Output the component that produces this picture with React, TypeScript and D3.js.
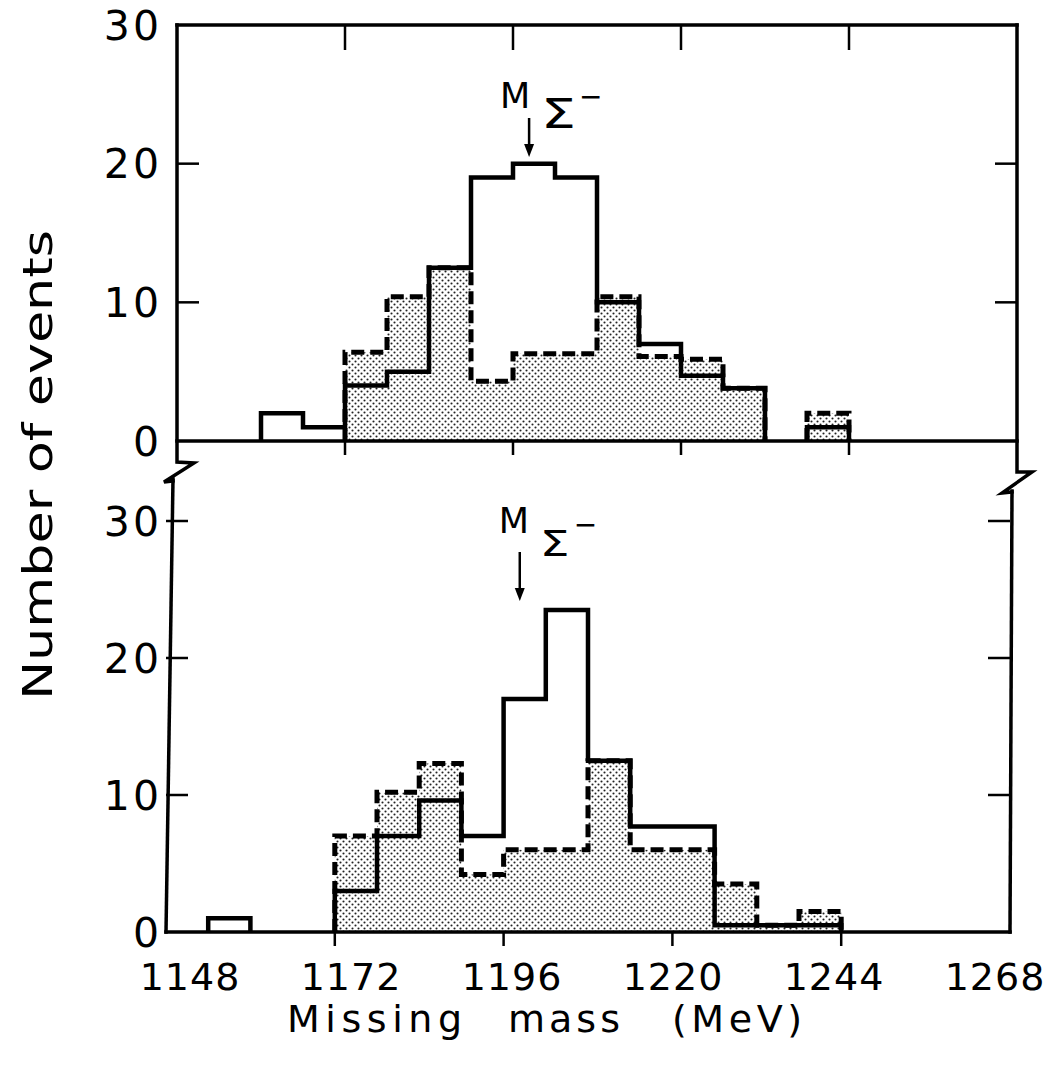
import React from 'react';
import * as d3 from 'd3';

// 6 MeV bins, left edges
const binStarts = [1154, 1160, 1166, 1172, 1178, 1184, 1190, 1196, 1202, 1208, 1214, 1220, 1226, 1232, 1238];
const binWidth = 6;

// upper panel
const topSolid = [0, 2, 1, 4, 5, 12.5, 19, 20, 19, 10, 7, 4.7, 3.8, 0, 1];
const topDashed = [0, 0, 0, 6.4, 10.4, 12.5, 4.3, 6.3, 6.3, 10.4, 6.1, 5.9, 3.8, 0, 2];

// lower panel
const bottomSolid = [1, 0, 0, 3, 7, 9.6, 7, 17, 23.5, 12.5, 7.7, 7.7, 0.5, 0.5, 0.5];
const bottomDashed = [0, 0, 0, 7, 10.2, 12.3, 4.2, 6, 6, 12.5, 6, 6, 3.5, 0.5, 1.5];

const xTicks = [1148, 1172, 1196, 1220, 1244, 1268];
const yTicks = [0, 10, 20, 30];
const sigmaMass = 1198.3;

const W = 1056;
const H = 1065;

const font = '"DejaVu Sans", sans-serif';

// split the histogram into runs of non-empty bins, each drawn as a step outline from the baseline
function stepRuns(values: number[]): [number, number][][] {
  const runs: [number, number][][] = [];
  let cur: [number, number][] | null = null;
  values.forEach((v, i) => {
    const a = binStarts[i];
    const b = a + binWidth;
    if (v > 0) {
      if (!cur) {
        cur = [[a, 0]];
        runs.push(cur);
      }
      cur.push([a, v], [b, v]);
    } else if (cur) {
      cur.push([a, 0]);
      cur = null;
    }
  });
  if (cur) {
    const c = cur as [number, number][];
    c.push([c[c.length - 1][0], 0]);
  }
  return runs;
}

interface Marker {
  y1: number; y2: number;
  mDx: number; mY: number;
  sDx: number; sY: number; sSize: number;
  minusDx: number; minusY: number;
}

interface PanelProps {
  solid: number[];
  dashed: number[];
  xRange: [number, number];
  yRange: [number, number];
  top: boolean;
  marker: Marker;
}

const Panel: React.FC<PanelProps> = ({ solid, dashed, xRange, yRange, top, marker }) => {
  const x = d3.scaleLinear().domain([1148, 1268]).range(xRange);
  const y = d3.scaleLinear().domain([0, 30]).range(yRange);

  const line = d3.line<[number, number]>().x(d => x(d[0])).y(d => y(d[1]));
  const area = d3.area<[number, number]>().x(d => x(d[0])).y0(y(0)).y1(d => y(d[1]));

  const x0 = xRange[0];
  const x1 = xRange[1];
  const y0 = y(0);
  const yTop = y(30);
  const inner = xTicks.slice(1, -1);
  const ax = x(sigmaMass);

  return (
    <g>
      {stepRuns(dashed).map((r, i) => (
        <path key={'a' + i} d={area(r) || ''} fill="url(#stipple)" stroke="none" />
      ))}

      {/* frame with axis breaks */}
      <g stroke="#000" strokeWidth={3.5} fill="none" strokeLinecap="square" strokeLinejoin="miter">
        <line x1={x0} x2={x1} y1={y0} y2={y0} />
        {top && <line x1={x0} x2={x1} y1={yTop} y2={yTop} />}
        {top ? (
          <>
            <path d={`M${x0},${yTop} L${x0},${y0 + 21} L${x0 + 17},${y0 + 22} L${x0 - 13},${y0 + 41} L${x0 - 4},${y0 + 40}`} />
            <path d={`M${x1},${yTop} L${x1},${y0 + 31} L${x1 + 15},${y0 + 31} L${x1 - 15},${y0 + 52} L${x1 - 5},${y0 + 51}`} />
          </>
        ) : (
          <>
            <line x1={x0 + 7} x2={x0} y1={yTop - 42} y2={y0} />
            <line x1={x1 + 2} x2={x1} y1={yTop - 30} y2={y0} />
          </>
        )}
      </g>
      <g stroke="#000" strokeWidth={2.5}>
        {inner.map(t => (
          <line key={'b' + t} x1={x(t)} x2={x(t)} y1={y0} y2={y0 + 14} />
        ))}
        {top && inner.map(t => (
          <line key={'t' + t} x1={x(t)} x2={x(t)} y1={yTop} y2={yTop + 25} />
        ))}
        {yTicks.filter(t => t > 0 && (top ? t < 30 : true)).map(t => (
          <g key={'y' + t}>
            <line x1={x0} x2={x0 + 22} y1={y(t)} y2={y(t)} />
            <line x1={x1} x2={x1 - 22} y1={y(t)} y2={y(t)} />
          </g>
        ))}
      </g>
      <g fontFamily={font} fontSize={41} textAnchor="end" fill="#000">
        {yTicks.map(t => (
          <text key={'l' + t} x={162} y={y(t)} dy="0.36em" letterSpacing={3}>{t}</text>
        ))}
      </g>

      {stepRuns(dashed).map((r, i) => (
        <path key={'d' + i} d={line(r) || ''} fill="none" stroke="#000" strokeWidth={5} strokeDasharray="13 6" />
      ))}
      {stepRuns(solid).map((r, i) => (
        <path key={'s' + i} d={line(r) || ''} fill="none" stroke="#000" strokeWidth={4.5} strokeLinejoin="miter" />
      ))}

      {/* M_Sigma- marker */}
      <g fill="#000" fontFamily={font}>
        <line x1={ax} x2={ax} y1={marker.y1} y2={marker.y2 - 10} stroke="#000" strokeWidth={2.5} />
        <path d={`M${ax - 5},${marker.y2 - 13} L${ax + 5},${marker.y2 - 13} L${ax},${marker.y2} Z`} />
        <text x={ax + marker.mDx} y={marker.mY} fontSize={35} textAnchor="middle">M</text>
        <text x={ax + marker.sDx} y={marker.sY} fontSize={marker.sSize} textLength={marker.sSize * 0.85} lengthAdjust="spacingAndGlyphs">Σ</text>
        <text x={ax + marker.minusDx} y={marker.minusY} fontSize={28}>−</text>
      </g>
    </g>
  );
};

const App: React.FC = () => {
  // tick labels are hand-lettered slightly inside the tick positions
  const xLabel = d3.scaleLinear().domain([1148, 1268]).range([190, 995]);
  return (
    <svg width={W} height={H} style={{ position: 'absolute', left: 0, top: 0, background: '#fff' }}>
      <defs>
        <pattern id="stipple" width={6} height={6} patternUnits="userSpaceOnUse">
          <rect width={6} height={6} fill="#fff" />
          <circle cx={1.5} cy={1.5} r={1.05} fill="#222" />
          <circle cx={4.5} cy={4.5} r={1.05} fill="#222" />
        </pattern>
      </defs>
      <rect width={W} height={H} fill="#fff" />

      <Panel
        solid={topSolid}
        dashed={topDashed}
        xRange={[177, 1017]}
        yRange={[441, 25]}
        top={true}
        marker={{ y1: 118, y2: 157, mDx: -14, mY: 108, sDx: 12, sY: 128, sSize: 41, minusDx: 50, minusY: 106 }}
      />
      <Panel
        solid={bottomSolid}
        dashed={bottomDashed}
        xRange={[166, 1010]}
        yRange={[932, 521]}
        top={false}
        marker={{ y1: 552, y2: 601, mDx: -6, mY: 533, sDx: 20, sY: 556, sSize: 35, minusDx: 54, minusY: 534 }}
      />

      <g fontFamily={font} fontSize={38} fill="#000">
        {xTicks.map(t => (
          <text key={t} x={xLabel(t)} y={990} textAnchor="middle" letterSpacing={1}>{t}</text>
        ))}
        <text x={287} y={1032} textLength={175} lengthAdjust="spacing">Missing</text>
        <text x={508} y={1032} textLength={112} lengthAdjust="spacing">mass</text>
        <text x={672} y={1032} textLength={130} lengthAdjust="spacing">(MeV)</text>
        <text
          transform="translate(52,465) rotate(-90)"
          textAnchor="middle"
          fontFamily='"DejaVu Sans Condensed", "DejaVu Sans", sans-serif'
          fontSize={40}
          textLength={470}
          lengthAdjust="spacingAndGlyphs"
        >
          Number of events
        </text>
      </g>
    </svg>
  );
};

export default App;
